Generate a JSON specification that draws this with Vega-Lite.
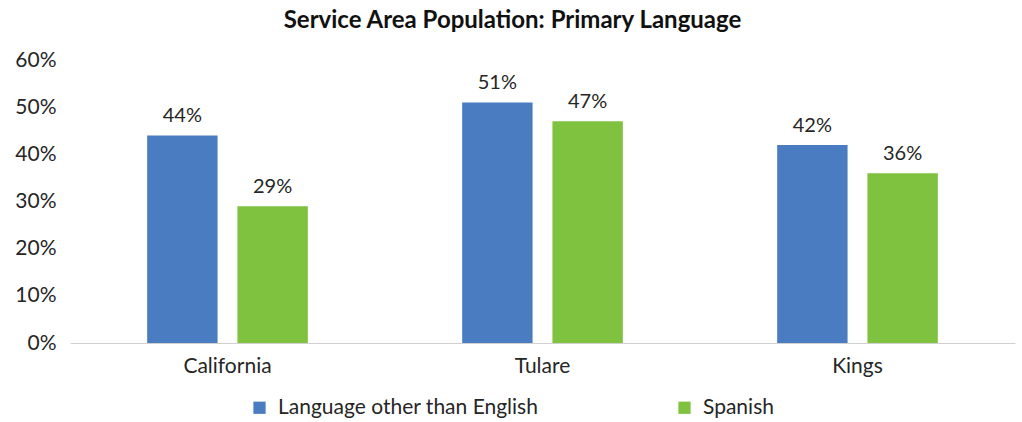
{
  "$schema": "https://vega.github.io/schema/vega-lite/v6.json",
  "width": 945,
  "height": 283,
  "autosize": {"type": "none"},
  "padding": {"left": 70, "top": 60, "right": 7, "bottom": 79},
  "background": "white",
  "view": {"stroke": null},
  "title": {
    "text": "Service Area Population: Primary Language",
    "font": "Lato",
    "fontSize": 24,
    "fontWeight": "bold",
    "color": "#111111",
    "anchor": "middle",
    "dx": -30,
    "offset": 16
  },
  "data": {
    "values": [
      {"region": "California", "lang": "Language other than English", "value": 0.44},
      {"region": "California", "lang": "Spanish", "value": 0.29},
      {"region": "Tulare", "lang": "Language other than English", "value": 0.51},
      {"region": "Tulare", "lang": "Spanish", "value": 0.47},
      {"region": "Kings", "lang": "Language other than English", "value": 0.42},
      {"region": "Kings", "lang": "Spanish", "value": 0.36}
    ]
  },
  "encoding": {
    "x": {
      "field": "region", "type": "nominal", "sort": ["California", "Tulare", "Kings"],
      "scale": {"paddingInner": 0.49, "paddingOuter": 0.245},
      "axis": {"title": null, "labelAngle": 0, "labelFont": "Lato", "labelFontSize": 21, "labelColor": "#262626", "ticks": false, "domainColor": "#d0d0d0", "labelPadding": 12, "labelDx": -10}
    },
    "xOffset": {"field": "lang", "type": "nominal", "scale": {"paddingInner": 0.22}},
    "y": {
      "field": "value", "type": "quantitative",
      "scale": {"domain": [0, 0.6]},
      "axis": {"title": null, "format": ".0%", "values": [0, 0.1, 0.2, 0.3, 0.4, 0.5, 0.6], "labelOverlap": false, "grid": false, "domain": false, "ticks": false, "labelFont": "Lato", "labelFontSize": 21, "labelColor": "#262626", "labelPadding": 14}
    }
  },
  "layer": [
    {
      "mark": {"type": "bar", "stroke": null},
      "encoding": {
        "color": {
          "field": "lang", "type": "nominal",
          "scale": {"domain": ["Language other than English", "Spanish"], "range": ["#4a7cc2", "#7ec23f"]},
          "legend": {
            "title": null, "orient": "none", "direction": "horizontal",
            "legendX": 179, "legendY": 337,
            "symbolType": "square", "symbolSize": 150, "symbolStrokeWidth": 0,
            "labelFont": "Lato", "labelFontSize": 21, "labelColor": "#262626",
            "labelLimit": 0, "columnPadding": 135, "labelOffset": 8
          }
        }
      }
    },
    {
      "mark": {"type": "text", "baseline": "bottom", "dy": -9, "font": "Lato", "fontSize": 20, "color": "#262626"},
      "encoding": {
        "text": {"field": "value", "type": "quantitative", "format": ".0%"}
      }
    }
  ]
}
